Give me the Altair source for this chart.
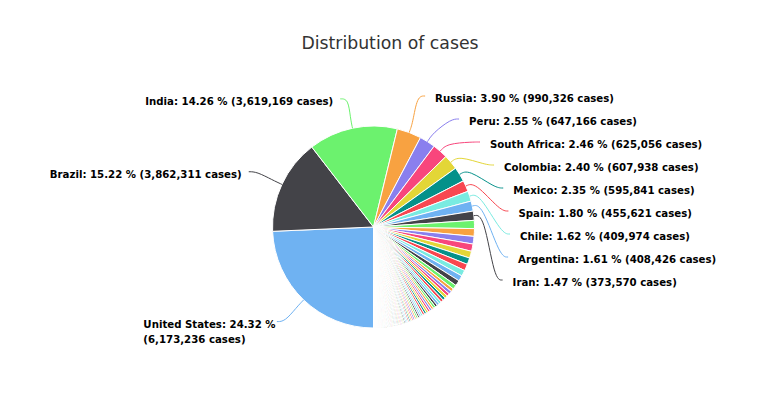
import math
import altair as alt
import pandas as pd

countries = [
    "United States", "Brazil", "India", "Russia", "Peru", "South Africa", "Colombia", "Mexico",
    "Spain", "Chile", "Argentina", "Iran",
    "United Kingdom", "Saudi Arabia", "Bangladesh", "Pakistan", "France", "Turkey", "Italy",
    "Germany", "Iraq", "Philippines", "Indonesia", "Canada", "Ukraine", "Qatar", "Bolivia",
    "Israel", "Ecuador", "Kazakhstan", "Egypt", "Panama", "Dominican Republic", "Romania",
    "Oman", "Belgium", "China", "Sweden", "Kuwait", "Guatemala", "Belarus", "Netherlands",
    "United Arab Emirates", "Poland", "Japan", "Morocco", "Honduras", "Portugal", "Singapore",
    "Nigeria", "Ethiopia", "Bahrain", "Venezuela", "Ghana", "Algeria", "Armenia", "Kyrgyzstan",
    "Switzerland", "Uzbekistan", "Costa Rica", "Nepal", "Afghanistan", "Moldova", "Azerbaijan",
    "Kenya", "Serbia", "Ireland", "Austria", "Australia", "El Salvador", "Czechia", "Palestine",
    "South Korea", "Bosnia and Herzegovina", "Cameroon", "Ivory Coast", "Denmark", "Bulgaria",
    "Lebanon", "Madagascar", "Paraguay", "Libya", "North Macedonia", "Senegal", "Sudan",
    "Kosovo", "Zambia", "Norway", "Greece", "DR Congo", "Albania", "Guinea", "Malaysia",
    "Croatia", "Gabon", "Tajikistan", "Haiti", "Finland", "Mauritania", "Luxembourg",
    "Maldives", "Namibia", "Zimbabwe", "Hungary", "Malawi", "Djibouti", "Montenegro",
    "Equatorial Guinea", "Hong Kong", "Central African Republic", "Eswatini", "Nicaragua",
    "Cuba", "Suriname", "Cape Verde", "Rwanda", "Slovakia", "Mozambique", "Thailand",
    "Somalia", "Congo", "Sri Lanka", "Tunisia", "Lithuania", "Slovenia", "Mali", "Uganda",
    "Angola", "Gambia", "South Sudan", "Syria", "Estonia", "Guinea-Bissau", "Benin",
    "Bahamas", "Iceland", "Sierra Leone", "Yemen", "Malta", "Jordan", "New Zealand",
    "Botswana", "Uruguay", "Jamaica", "Cyprus", "Georgia", "Latvia", "Burkina Faso", "Togo",
    "Liberia", "Trinidad and Tobago", "Niger", "Aruba", "Andorra", "Lesotho", "Vietnam",
    "Chad", "Guyana", "Belize", "Sao Tome and Principe", "Myanmar", "San Marino",
    "Diamond Princess", "Tanzania", "Taiwan", "Papua New Guinea", "Burundi", "Comoros",
    "Mauritius", "Eritrea", "Mongolia", "Cambodia", "Bhutan", "Barbados", "Monaco", "Brunei",
    "Seychelles", "Liechtenstein", "Antigua and Barbuda", "Saint Vincent", "Fiji",
    "Timor-Leste", "Saint Lucia", "Grenada", "Laos", "Dominica", "Saint Kitts and Nevis",
    "Vatican",
]

cases = [
    6173236, 3862311, 3619169, 990326, 647166, 625056, 607938, 595841,
    455621, 409974, 408426, 373570,
    332000, 312000, 310000, 296149, 280000, 268546, 268218,
    243599, 228251, 220819, 174796, 129425, 124500, 118473, 116598,
    113713, 112675, 105590, 98495, 94084, 93390, 87540,
    86380, 85487, 85058, 84294, 84224, 74893, 71325, 70902,
    70231, 67372, 67264, 61399, 60139, 58012, 56812,
    53865, 52131, 51524, 45868, 44205, 44146, 44075, 44048,
    42014, 41299, 40659, 38560, 38133, 36966, 35828,
    34057, 31099, 28811, 26417, 25746, 25274, 24618, 23451,
    19947, 19000, 18762, 18008, 17084, 15963,
    15613, 15013, 14998, 14798, 14711, 13366, 13155,
    12450, 11902, 10938, 10317, 10084, 9513, 9409, 9334,
    9316, 8463, 8285, 8238, 8200, 7064, 7037,
    6969, 6431, 6412, 6139, 5509, 5384, 5371,
    4985, 4786, 4684, 4384, 4115,
    3977, 3946, 3937, 3844, 3797, 3681, 3411,
    3301, 3200, 2996, 2893, 2851, 2847, 2776, 2756,
    2597, 2538, 2527, 2504, 2360, 2205, 2145,
    2135, 2062, 2010, 1958, 1843, 1764, 1738,
    1633, 1588, 1555, 1474, 1445, 1361, 1355, 1330,
    1310, 1286, 1176, 1163, 1124, 1051, 1044,
    1023, 1001, 922, 892, 882, 722,
    712, 509, 488, 459, 432, 415,
    346, 319, 305, 274, 192, 178, 157, 144,
    136, 112, 94, 60, 32,
    27, 26, 24, 22, 20, 17,
    12,
]

palette = ["#6fb2f2", "#434348", "#6cf26e", "#f8a241", "#8a7fee",
           "#f8467c", "#e3d637", "#05918a", "#f84650", "#79ebe1"]

df = pd.DataFrame({"country": countries, "cases": cases})
df = df.sort_values("cases", ascending=False, kind="stable").reset_index(drop=True)
df["idx"] = range(len(df))
df["ci"] = ["c%d" % (i % 10) for i in df["idx"]]

CX, CY, R = 365.5, 219, 101
TOP, STEP = 90, 23
AX, AY, RR = 359, 227, 153
FONT = "DejaVu Sans"
LFS = 10.2
CHARW = 5.75

color_enc = alt.Color("ci:N", scale=alt.Scale(domain=["c%d" % i for i in range(10)], range=palette), legend=None)

base = alt.Chart(df)

pie = base.mark_arc(outerRadius=R, stroke="#ffffff", strokeWidth=1).encode(
    theta=alt.Theta("cases:Q", stack=True, scale=alt.Scale(range=[math.pi, 3 * math.pi])),
    color=color_enc,
    order=alt.Order("idx:Q", sort="ascending"),
    x=alt.value(CX),
    y=alt.value(CY),
)

geo = (
    base.transform_window(cum="sum(cases)", sort=[alt.SortField("idx", order="ascending")], frame=[None, 0])
    .transform_joinaggregate(total="sum(cases)")
    .transform_filter("datum.idx < 12")
    .transform_calculate(mid="PI + 2*PI*(datum.cum - datum.cases/2)/datum.total")
    .transform_calculate(pct="100*datum.cases/datum.total")
    .transform_calculate(side='sin(datum.mid) > 0 ? "R" : "L"')
    .transform_window(rk="row_number()", groupby=["side"], sort=[alt.SortField("idx", order="ascending")])
    .transform_calculate(ex=f"{CX} + {R}*sin(datum.mid)")
    .transform_calculate(ey=f"{CY} - {R}*cos(datum.mid)")
    .transform_calculate(bx=f"{CX} + {R + 10}*sin(datum.mid)")
    .transform_calculate(by=f"{CY} - {R + 10}*cos(datum.mid)")
    .transform_calculate(nx=f"{CX} + {R + 30}*sin(datum.mid)")
    .transform_calculate(ny=f"{CY} - {R + 30}*cos(datum.mid)")
    .transform_calculate(ly=f'datum.side == "R" ? {TOP} + {STEP}*(datum.rk - 1) : datum.ny + 2')
    .transform_calculate(lx=f'datum.side == "R" ? {AX} + sqrt(max(0, {RR}*{RR} - pow(datum.ly - {AY}, 2))) : datum.nx - 13')
    .transform_calculate(endx='datum.side == "R" ? datum.lx - 10 : datum.lx + 7')
    .transform_calculate(endy="datum.ly - 2")
    .transform_calculate(tyb="datum.ly + 4")
    .transform_calculate(line1='datum.country + ": " + format(datum.pct, ".2f") + " %"')
    .transform_calculate(line2='"(" + format(datum.cases, ",") + " cases)"')
    .transform_calculate(wrap='datum.side == "L" && length(datum.line1 + datum.line2) > 36')
    .transform_calculate(label='datum.wrap ? datum.line1 + "\\n" + datum.line2 : datum.line1 + " " + datum.line2')
    .transform_calculate(wx=f"datum.lx - {CHARW}*length(datum.line1)")
)

conn = (
    geo.transform_calculate(k0="0", k1="1", k2="2", k3="3")
    .transform_fold(["k0", "k1", "k2", "k3"], as_=["kk", "kv"])
    .transform_calculate(px='datum.kv == 0 ? datum.ex : datum.kv == 1 ? datum.bx : datum.kv == 2 ? datum.endx + (datum.side == "R" ? -8 : 8) : datum.endx')
    .transform_calculate(py="datum.kv == 0 ? datum.ey : datum.kv == 1 ? datum.by : datum.endy")
    .mark_line(interpolate="basis", strokeWidth=1)
    .encode(
        x=alt.X("px:Q", scale=None, axis=None),
        y=alt.Y("py:Q", scale=None, axis=None),
        color=color_enc,
        detail="country:N",
        order=alt.Order("kv:Q"),
    )
)

text_props = dict(baseline="alphabetic", font=FONT, fontSize=LFS, fontWeight="bold",
                  color="#000000", lineBreak="\n", lineHeight=15)

txt_r = geo.transform_filter('datum.side == "R"').mark_text(align="left", **text_props).encode(
    x=alt.X("lx:Q", scale=None, axis=None),
    y=alt.Y("tyb:Q", scale=None, axis=None),
    text="label:N",
)
txt_l = geo.transform_filter('datum.side == "L" && !datum.wrap').mark_text(align="right", **text_props).encode(
    x=alt.X("lx:Q", scale=None, axis=None),
    y=alt.Y("tyb:Q", scale=None, axis=None),
    text="label:N",
)
txt_w = geo.transform_filter("datum.wrap").mark_text(align="left", **text_props).encode(
    x=alt.X("wx:Q", scale=None, axis=None),
    y=alt.Y("tyb:Q", scale=None, axis=None),
    text="label:N",
)

chart = (
    alt.layer(pie, conn, txt_r, txt_l, txt_w)
    .properties(
        width=746,
        height=380,
        autosize=alt.AutoSizeParams(type="none"),
        padding=0,
        title=alt.TitleParams(
            "Distribution of cases",
            font=FONT,
            fontSize=17.3,
            fontWeight="normal",
            color="#333333",
            anchor="middle",
            frame="group",
            baseline="alphabetic",
            offset=-58,
            dx=9,
        ),
    )
    .configure_view(stroke=None)
)

chart.save("out.html", embed_options={"renderer": "svg", "actions": False})
